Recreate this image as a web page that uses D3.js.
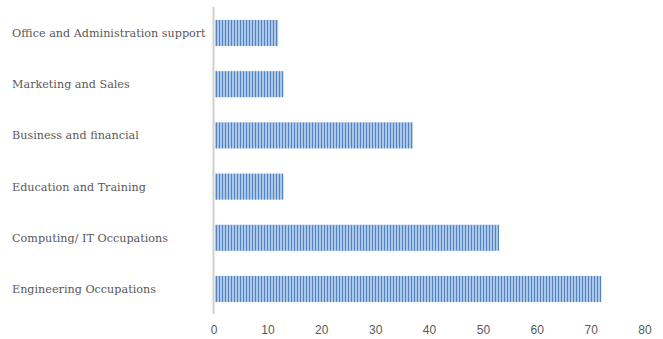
<!DOCTYPE html>
<html>
<head>
<meta charset="utf-8">
<script src="https://cdn.jsdelivr.net/npm/d3@7"></script>
<style>
  html, body { margin: 0; padding: 0; background: #ffffff; }
  svg { display: block; }
</style>
</head>
<body>
<svg id="chart" width="663" height="339"></svg>
<script>
// Occupation categories, top to bottom
const categories = [
  "Office and Administration support",
  "Marketing and Sales",
  "Business and financial",
  "Education and Training",
  "Computing/ IT Occupations",
  "Engineering Occupations"
];
const values = [12, 13, 37, 13, 53, 72];
const tickValues = [0, 10, 20, 30, 40, 50, 60, 70, 80];

const svg = d3.select("#chart");

// Narrow vertical stripe fill for the bars
const defs = svg.append("defs");
const pat = defs.append("pattern")
  .attr("id", "vstripe")
  .attr("patternUnits", "userSpaceOnUse")
  .attr("width", 3).attr("height", 4);
pat.append("rect").attr("width", 3).attr("height", 4).attr("fill", "#aec6e6");
pat.append("rect").attr("width", 1).attr("height", 4).attr("fill", "#4f84c8");

const x = d3.scaleLinear().domain([0, 80]).range([213.5, 644.5]);
const y = d3.scaleBand()
  .domain(categories)
  .range([7.4, 314.6])
  .paddingInner(0.49)
  .paddingOuter(0.245);

// Bars
svg.append("g")
  .selectAll("rect")
  .data(categories)
  .join("rect")
  .attr("x", x(0) + 1.5)
  .attr("y", d => y(d))
  .attr("width", (d, i) => x(values[i]) - x(0) - 1.5)
  .attr("height", y.bandwidth())
  .attr("fill", "url(#vstripe)");

// Vertical category axis line
svg.append("line")
  .attr("x1", x(0)).attr("x2", x(0))
  .attr("y1", 7).attr("y2", 314)
  .attr("stroke", "#d0d0d0")
  .attr("stroke-width", 2);

// Category labels
svg.append("g")
  .selectAll("text")
  .data(categories)
  .join("text")
  .attr("x", 12)
  .attr("y", d => y(d) + y.bandwidth() / 2)
  .attr("dy", "0.35em")
  .attr("font-family", "'DejaVu Serif', serif")
  .attr("font-size", 11.2)
  .attr("fill", "#595959")
  .text(d => d);

// Value axis tick labels
const xAxis = d3.axisBottom(x).tickValues(tickValues).tickSize(0).tickPadding(0);
const gx = svg.append("g")
  .attr("transform", "translate(0,325)")
  .call(xAxis);
gx.select(".domain").remove();
gx.selectAll("text")
  .attr("font-family", "'Liberation Sans', sans-serif")
  .attr("font-size", 12)
  .attr("fill", "#595959")
  .attr("dy", "0.71em");
</script>
</body>
</html>
